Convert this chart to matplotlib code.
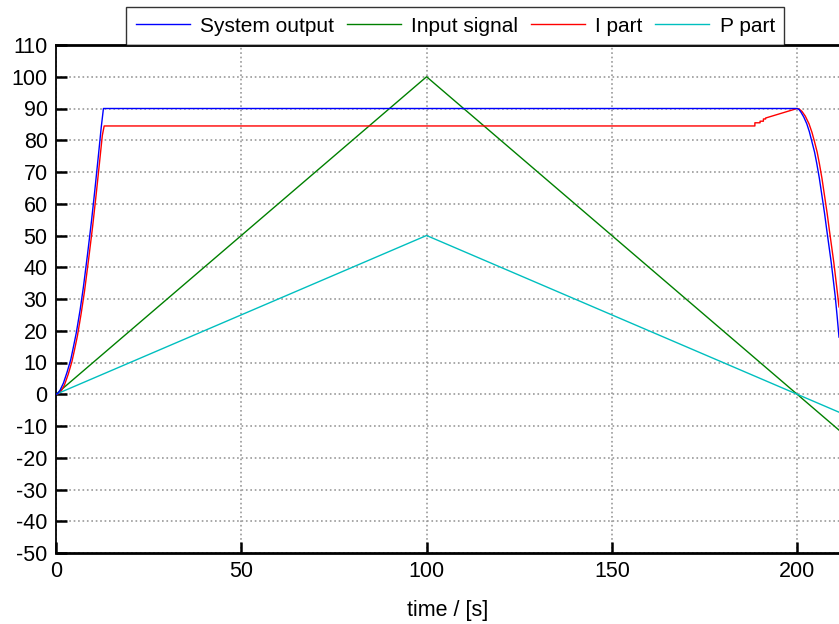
import matplotlib
matplotlib.use('Agg')
import matplotlib.pyplot as plt
import numpy as np

plt.rcParams['font.family'] = ['Liberation Sans', 'DejaVu Sans']
plt.rcParams['axes.unicode_minus'] = False

# System output
out_t = [0, 0.5, 1.1, 2.0, 3.0, 4.0, 4.7, 5.5, 6.5, 7.4, 8.5, 9.6, 10.5,
         11.4, 12.2, 12.8, 13.3,
         200, 200.5, 201.0, 201.8, 202.6, 203.3, 204.0, 204.7, 205.3, 206.0,
         206.7, 207.4, 208.0, 208.6, 209.2, 209.8, 210.3, 210.8, 211.3]
out_y = [0, 0.3, 1.3, 3.5, 7.0, 11.0, 14.9, 19.5, 26.5, 33.8, 44.0, 54.8, 64.5,
         74.7, 84.0, 90, 90,
         90, 89.7, 88.9, 87.3, 85.2, 82.7, 79.5, 76.3, 72.7, 68.0,
         62.5, 57.0, 51.7, 46.6, 41.5, 35.6, 30.6, 24.5, 18]

# I part
i_t = [0, 0.7, 1.4, 2.3, 3.3, 4.3, 5.0, 5.8, 6.8, 7.7, 8.8, 9.9, 10.8,
       11.7, 12.5, 13.0,
       188.6, 188.6, 190.0, 190.0, 190.9, 190.9, 191.5, 191.5, 200,
       200.6, 201.3, 202.2, 203.2, 204.0, 204.7, 205.4, 206.0, 206.7,
       207.4, 208.1, 208.7, 209.3, 209.9, 210.5, 211.0, 211.3]
i_y = [0, 0.2, 1.0, 3.0, 6.3, 10.3, 14.0, 18.5, 25.5, 32.5, 42.5, 53.0, 62.5,
       72.5, 81.5, 84.5,
       84.5, 85.5, 85.5, 86.0, 86.0, 86.7, 86.7, 87.0, 90,
       89.8, 89.1, 87.6, 85.2, 82.5, 79.5, 76.3, 72.7, 68.0,
       62.5, 57.0, 51.7, 46.6, 41.5, 35.6, 30.6, 27.5]

# Input signal and P part
in_t = [0, 100, 211.3]
in_y = [0, 100, -11.3]
p_t = [0, 100, 211.3]
p_y = [0, 50, -5.65]

fig = plt.figure(figsize=(8.39, 6.24), dpi=100)
ax = fig.add_axes([56 / 839, 71 / 624, 1 - 56 / 839, 508 / 624])

ax.plot(out_t, out_y, color='#0000ff', lw=1.0, label='System output', zorder=3)
ax.plot(in_t, in_y, color='#008000', lw=1.0, label='Input signal')
ax.plot(i_t, i_y, color='#ff0000', lw=1.0, label='I part')
ax.plot(p_t, p_y, color='#00bfbf', lw=1.0, label='P part')

ax.set_xlim(0, 211.3)
ax.set_ylim(-50, 110)
ax.set_xticks([0, 50, 100, 150, 200])
ax.set_yticks(np.arange(-50, 111, 10))
ax.tick_params(direction='in', length=8, width=1.8, labelsize=15.5, pad=6)
ax.grid(True, linestyle=':', color='#999999', lw=1.2)

ax.spines['right'].set_visible(False)
ax.spines['top'].set_linewidth(2)
ax.spines['bottom'].set_linewidth(2)
ax.spines['left'].set_linewidth(1.3)

ax.set_xlabel('time / [s]', fontsize=15.5, labelpad=13)

leg = ax.legend(loc='lower center', bbox_to_anchor=(0.51, 1.0), ncol=4,
                fontsize=15, frameon=True, fancybox=False, borderaxespad=0,
                handlelength=2.6, columnspacing=0.6, handletextpad=0.5,
                borderpad=0.45)
leg.get_frame().set_edgecolor('black')
leg.get_frame().set_linewidth(1.0)

fig.savefig('out.png', dpi=100)
